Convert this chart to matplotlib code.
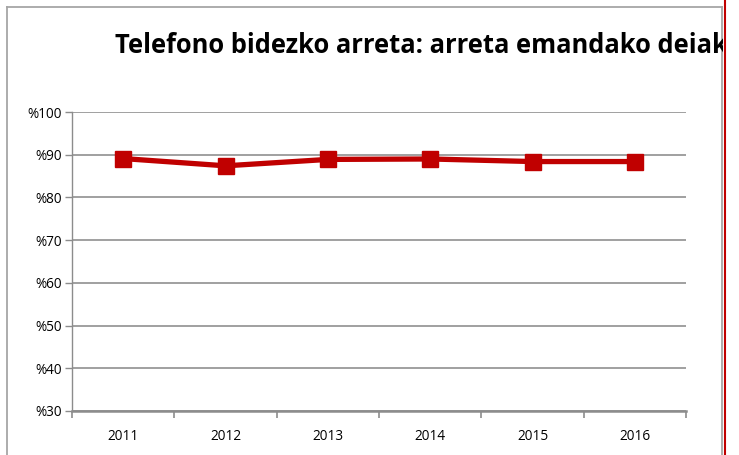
import matplotlib
matplotlib.use("Agg")
import matplotlib.pyplot as plt
from matplotlib.lines import Line2D
from matplotlib.patches import Rectangle

years = ["2011", "2012", "2013", "2014", "2015", "2016"]
values = [89.1, 87.4, 88.9, 89.0, 88.4, 88.4]
yticks = [30, 40, 50, 60, 70, 80, 90, 100]
ytick_labels = ["%30", "%40", "%50", "%60", "%70", "%80", "%90", "%100"]
title = "Telefono bidezko arreta: arreta emandako deiak"

W, H = 739, 455
fig = plt.figure(figsize=(W / 100, H / 100), dpi=100)
fig.patch.set_facecolor("white")

L, R, T, B = 72, 686, 112, 411
ax = fig.add_axes([L / W, 1 - B / H, (R - L) / W, (B - T) / H])
x = list(range(len(years)))
ax.plot(x, values, color="#C00000", lw=3.8, marker="s", markersize=11,
        markeredgecolor="#C00000", markerfacecolor="#C00000", zorder=5, clip_on=False)
ax.set_xlim(-0.5, len(years) - 0.5)
ax.set_ylim(30, 100)
ax.set_yticks(yticks)
ax.set_yticklabels(ytick_labels)
ax.set_xticks(x)
ax.set_xticklabels(years)
ax.set_xticks([i - 0.5 for i in range(len(years) + 1)], minor=True)
ax.tick_params(axis="x", which="major", length=0, pad=13, labelsize=9.8)
ax.tick_params(axis="x", which="minor", length=5, width=1.2, color="#8c8c8c", direction="out")
ax.tick_params(axis="y", length=5, width=1.0, color="#8c8c8c", labelsize=9.8, pad=2)
for lab in ax.get_xticklabels() + ax.get_yticklabels():
    lab.set_fontfamily("Open Sans")
ax.grid(axis="y", color="#999999", lw=1.3)
ax.set_axisbelow(True)
for s in ["top", "right"]:
    ax.spines[s].set_visible(False)
ax.spines["left"].set_color("#8c8c8c")
ax.spines["left"].set_linewidth(1.0)
ax.spines["bottom"].set_color("#8c8c8c")
ax.spines["bottom"].set_linewidth(1.8)

# frame
fig.add_artist(Line2D([7 / W, 7 / W], [0, 1 - 7 / H], color="#a6a6a6", lw=1.3))
fig.add_artist(Line2D([7 / W, 722 / W], [1 - 7 / H, 1 - 7 / H], color="#a6a6a6", lw=1.3))
fig.add_artist(Line2D([722 / W, 722 / W], [0, 1 - 7 / H], color="#a6a6a6", lw=1.3))

t = fig.text(115 / W, 1 - 53 / H, title, fontsize=17, fontweight="bold",
             family="Open Sans", ha="left", va="baseline", color="black")
fig.canvas.draw()
bb = t.get_window_extent()
target = 728 - 115
t.set_fontsize(17 * target / bb.width)
clip = Rectangle((0, 0), 723, H, transform=None)
t.set_clip_path(clip)
fig.add_artist(Line2D([724.5 / W, 724.5 / W], [0, 1], color="#c00000", lw=1.5))

fig.savefig("out.png", dpi=100)
